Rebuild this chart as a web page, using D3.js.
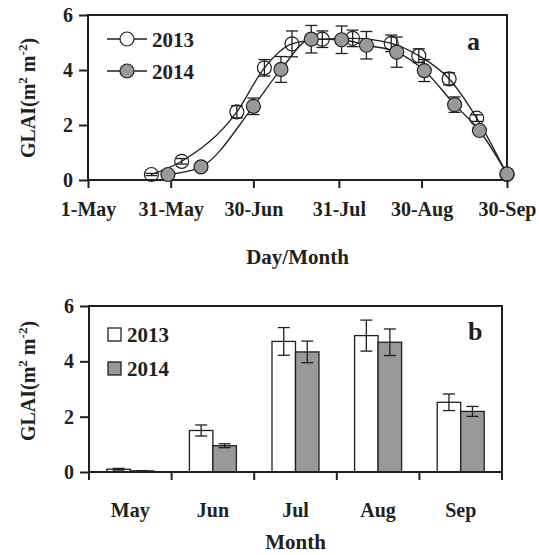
<!DOCTYPE html>
<html><head><meta charset="utf-8">
<script src="https://cdn.jsdelivr.net/npm/d3@7"></script>
<style>
body{margin:0;background:#fff;}
svg text{font-family:"Liberation Serif","Times New Roman",serif;font-weight:bold;fill:#231f20;}
</style></head>
<body><svg id="c" width="539" height="555"></svg>
<script>
// ---- Panel a data (Day/Month) ----
const dates2013 = ["05-24","06-04","06-24","07-04","07-14","07-25","08-05","08-19","08-29","09-09","09-19","09-30"];
const glai2013  = [0.2,0.68,2.48,4.08,4.95,5.12,5.15,4.97,4.52,3.68,2.25,0.2];
const err2013   = [0.04,0.1,0.22,0.3,0.47,0.3,0.3,0.3,0.25,0.22,0.12,0.05];
const dates2014 = ["05-30","06-11","06-30","07-10","07-21","08-01","08-10","08-21","08-31","09-11","09-20","09-30"];
const glai2014  = [0.2,0.48,2.68,4.02,5.12,5.1,4.9,4.65,3.98,2.74,1.8,0.22];
const err2014   = [0.03,0.05,0.3,0.47,0.5,0.5,0.5,0.55,0.4,0.28,0.1,0.05];
const xTickDates  = ["05-01","05-31","06-30","07-31","08-30","09-30"];
const xTickLabels = ["1-May","31-May","30-Jun","31-Jul","30-Aug","30-Sep"];
const yTicks = [0,2,4,6];
// ---- Panel b data (Month) ----
const months   = ["May","Jun","Jul","Aug","Sep"];
const years    = ["2013","2014"];
const bar2013  = [0.1,1.5,4.72,4.93,2.52];
const berr2013 = [0.03,0.2,0.5,0.56,0.3];
const bar2014  = [0.04,0.95,4.34,4.69,2.19];
const berr2014 = [0.01,0.07,0.39,0.48,0.18];

const ink = "#231f20", gray = "#999999";
const svg = d3.select("#c");
const parse = d3.utcParse("%Y-%m-%d");
const dt = s => parse("2000-" + s);

function yLabel(g, cx, cy){
  const t = g.append("text").attr("transform",`translate(${cx},${cy}) rotate(-90)`)
    .attr("text-anchor","middle").attr("font-size",20);
  t.append("tspan").text("GLAI(m");
  t.append("tspan").attr("font-size",13).attr("dy",-8).text("2");
  t.append("tspan").attr("dy",8).text(" m");
  t.append("tspan").attr("font-size",13).attr("dy",-8).text("-2");
  t.append("tspan").attr("dy",8).text(")");
}

function frame(g, x0, x1, y0, y1){
  g.append("rect").attr("x",x0).attr("y",y0).attr("width",x1-x0).attr("height",y1-y0)
    .attr("fill","none").attr("stroke",ink).attr("stroke-width",2);
}

// ================= Panel a =================
{
  const L=88,R=507,T=15,B=180;
  const x = d3.scaleUtc().domain([dt("05-01"),dt("09-30")]).range([L,R]);
  const y = d3.scaleLinear().domain([0,6]).range([B,T]);
  const g = svg.append("g");
  frame(g,L,R,T,B);
  const ya = g.append("g").attr("transform",`translate(${L},0)`)
    .call(d3.axisLeft(y).tickValues(yTicks).tickSize(9).tickPadding(6).tickFormat(d3.format("d")));
  ya.select(".domain").remove();
  ya.selectAll("line").attr("stroke",ink).attr("stroke-width",2);
  ya.selectAll("text").attr("font-size",20).attr("font-family",null).attr("fill",ink);
  const xa = g.append("g").attr("transform",`translate(0,${B})`)
    .call(d3.axisBottom(x).tickValues(xTickDates.map(dt)).tickSize(8).tickPadding(14)
      .tickFormat((d,i)=>xTickLabels[i]));
  xa.select(".domain").remove();
  xa.selectAll("line").attr("stroke",ink).attr("stroke-width",2);
  xa.selectAll("text").attr("font-size",20).attr("font-family",null).attr("fill",ink);
  g.append("text").attr("x",(L+R)/2).attr("y",264).attr("text-anchor","middle").attr("font-size",21).text("Day/Month");
  yLabel(g,35,98);
  g.append("text").attr("x",467).attr("y",50).attr("font-size",26).text("a");

  const series = [
    {d:dates2013,v:glai2013,e:err2013,fill:"#fff"},
    {d:dates2014,v:glai2014,e:err2014,fill:gray}
  ];
  const line = d3.line().x(p=>x(p.t)).y(p=>y(p.v)).curve(d3.curveMonotoneX);
  series.forEach(s=>{
    const pts = s.d.map((d,i)=>({t:dt(d),v:s.v[i],e:s.e[i]}));
    g.append("path").datum(pts).attr("d",line).attr("fill","none").attr("stroke",ink).attr("stroke-width",1.3);
    s.pts = pts;
  });
  series.forEach(s=>{
    const eg = g.append("g").attr("stroke",ink).attr("stroke-width",1.3);
    s.pts.forEach(p=>{
      const cx=x(p.t);
      eg.append("line").attr("x1",cx).attr("x2",cx).attr("y1",y(p.v+p.e)).attr("y2",y(p.v-p.e));
      eg.append("line").attr("x1",cx-6).attr("x2",cx+6).attr("y1",y(p.v+p.e)).attr("y2",y(p.v+p.e));
      eg.append("line").attr("x1",cx-6).attr("x2",cx+6).attr("y1",y(p.v-p.e)).attr("y2",y(p.v-p.e));
    });
    g.append("g").selectAll("circle").data(s.pts).join("circle")
      .attr("cx",p=>x(p.t)).attr("cy",p=>y(p.v)).attr("r",7)
      .attr("fill",s.fill).attr("fill-opacity",s.fill==="#fff"?0:1)
      .attr("stroke",ink).attr("stroke-width",1.2);
  });
  [[39,"#fff","2013"],[71,gray,"2014"]].forEach(([ly,f,lab])=>{
    g.append("line").attr("x1",107).attr("x2",147).attr("y1",ly).attr("y2",ly).attr("stroke",ink).attr("stroke-width",1.3);
    g.append("circle").attr("cx",127).attr("cy",ly).attr("r",7).attr("fill",f).attr("stroke",ink).attr("stroke-width",1.2);
    g.append("text").attr("x",152).attr("y",ly+8).attr("font-size",21).text(lab);
  });
}

// ================= Panel b =================
{
  const L=89,R=502,T=306,B=472;
  const x = d3.scaleBand().domain(months).range([L,R]);
  const x1 = d3.scaleBand().domain(years).range([0,47]);
  const y = d3.scaleLinear().domain([0,6]).range([B,T]);
  const g = svg.append("g");
  const off = (x.bandwidth()-47)/2;
  const data = months.map((m,i)=>[
    {m,yr:"2013",v:bar2013[i],e:berr2013[i],fill:"#fff"},
    {m,yr:"2014",v:bar2014[i],e:berr2014[i],fill:gray}
  ]).flat();
  g.selectAll("rect.bar").data(data).join("rect").attr("class","bar")
    .attr("x",d=>x(d.m)+off+x1(d.yr)).attr("width",x1.bandwidth())
    .attr("y",d=>y(d.v)).attr("height",d=>y(0)-y(d.v))
    .attr("fill",d=>d.fill).attr("stroke",ink).attr("stroke-width",1.3);
  const eg = g.append("g").attr("stroke",ink).attr("stroke-width",1.3);
  data.forEach(d=>{
    const cx = x(d.m)+off+x1(d.yr)+x1.bandwidth()/2;
    eg.append("line").attr("x1",cx).attr("x2",cx).attr("y1",y(d.v+d.e)).attr("y2",y(d.v-d.e));
    eg.append("line").attr("x1",cx-6).attr("x2",cx+6).attr("y1",y(d.v+d.e)).attr("y2",y(d.v+d.e));
    eg.append("line").attr("x1",cx-6).attr("x2",cx+6).attr("y1",y(d.v-d.e)).attr("y2",y(d.v-d.e));
  });
  frame(g,L,R,T,B);
  const ya = g.append("g").attr("transform",`translate(${L},0)`)
    .call(d3.axisLeft(y).tickValues(yTicks).tickSize(9).tickPadding(6).tickFormat(d3.format("d")));
  ya.select(".domain").remove();
  ya.selectAll("line").attr("stroke",ink).attr("stroke-width",2);
  ya.selectAll("text").attr("font-size",20).attr("font-family",null).attr("fill",ink);
  const edges = months.map(m=>x(m)).concat([R]);
  g.append("g").selectAll("line").data(edges).join("line")
    .attr("x1",d=>d).attr("x2",d=>d).attr("y1",B).attr("y2",B+8).attr("stroke",ink).attr("stroke-width",2);
  g.append("g").selectAll("text").data(months).join("text")
    .attr("x",m=>x(m)+x.bandwidth()/2).attr("y",517).attr("text-anchor","middle").attr("font-size",20).text(m=>m);
  g.append("text").attr("x",(L+R)/2).attr("y",549).attr("text-anchor","middle").attr("font-size",21).text("Month");
  yLabel(g,35,381);
  g.append("text").attr("x",468).attr("y",340).attr("font-size",26).text("b");
  [[328,"#fff","2013"],[362,gray,"2014"]].forEach(([ly,f,lab])=>{
    g.append("rect").attr("x",108).attr("y",ly).attr("width",13).attr("height",13).attr("fill",f).attr("stroke",ink).attr("stroke-width",1.3);
    g.append("text").attr("x",127).attr("y",ly+14).attr("font-size",21).text(lab);
  });
}
</script></body></html>
